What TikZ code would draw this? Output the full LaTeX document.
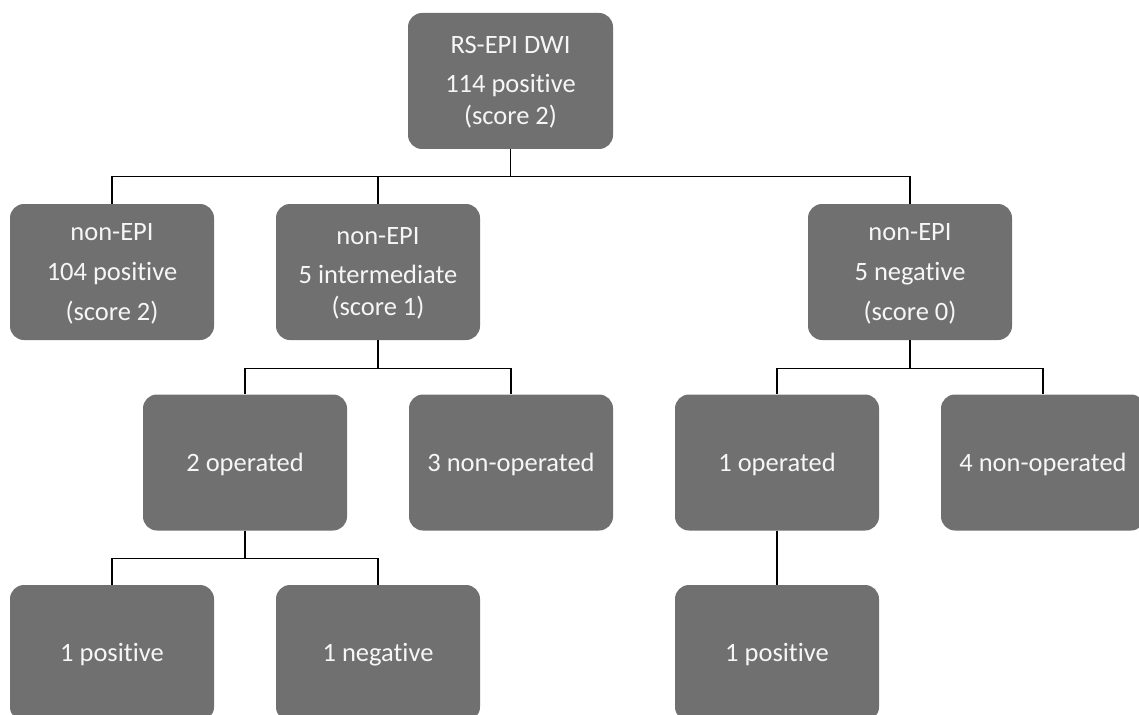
\documentclass[tikz,border=0pt]{standalone}
\usepackage{fontspec}
\setmainfont{Carlito}[Ligatures=NoCommon]
\definecolor{boxgray}{RGB}{112,112,112}
\definecolor{boxtext}{RGB}{246,246,246}
\newcommand{\mlines}[1]{\raisebox{-2pt}[\height][\depth]{\begin{tabular}{@{}c@{}}#1\end{tabular}}}
\newcommand{\sline}[1]{\raisebox{-2pt}[\height][\depth]{#1}}
\begin{document}
\begin{tikzpicture}[x=1pt,y=-1pt,
  box/.style={draw=none,fill=boxgray,rounded corners=14pt,minimum width=204pt,minimum height=136pt,
    text=boxtext,align=center,inner sep=0pt,font=\fontsize{26.5}{32}\selectfont},
  conn/.style={draw=black,line width=1.2pt}]
\useasboundingbox (0,0) rectangle (1139,714);
\node[box,minimum width=205pt] (top) at (510.5,81) {\mlines{RS-EPI DWI\\[7pt]114 positive\\(score 2)}};
\node[box] (a) at (112,272) {\mlines{non-EPI\\[8pt]104 positive\\[8pt](score 2)}};
\node[box] (b) at (378,272) {\mlines{non-EPI\\[7pt]5 intermediate\\(score 1)}};
\node[box] (c) at (910,272) {\mlines{non-EPI\\[8pt]5 negative\\[8pt](score 0)}};
\node[box] (b1) at (245,462.5) {\sline{2 operated}};
\node[box] (b2) at (511,462.5) {\sline{3 non-operated}};
\node[box] (c1) at (777,462.5) {\sline{1 operated}};
\node[box] (c2) at (1043,462.5) {\sline{4 non-operated}};
\node[box] (d1) at (112,653) {\sline{1 positive}};
\node[box] (d2) at (378,653) {\sline{1 negative}};
\node[box] (e1) at (777,653) {\sline{1 positive}};
\draw[conn] (top.south) -- ++(0,27) coordinate (j1);
\draw[conn] (j1) -| (a.north);
\draw[conn] (j1) -| (b.north);
\draw[conn] (j1) -| (c.north);
\draw[conn] (b.south) -- ++(0,28) coordinate (j2);
\draw[conn] (j2) -| (b1.north);
\draw[conn] (j2) -| (b2.north);
\draw[conn] (c.south) -- ++(0,28) coordinate (j3);
\draw[conn] (j3) -| (c1.north);
\draw[conn] (j3) -| (c2.north);
\draw[conn] (b1.south) -- ++(0,28) coordinate (j4);
\draw[conn] (j4) -| (d1.north);
\draw[conn] (j4) -| (d2.north);
\draw[conn] (c1.south) -- (e1.north);
\end{tikzpicture}
\end{document}
